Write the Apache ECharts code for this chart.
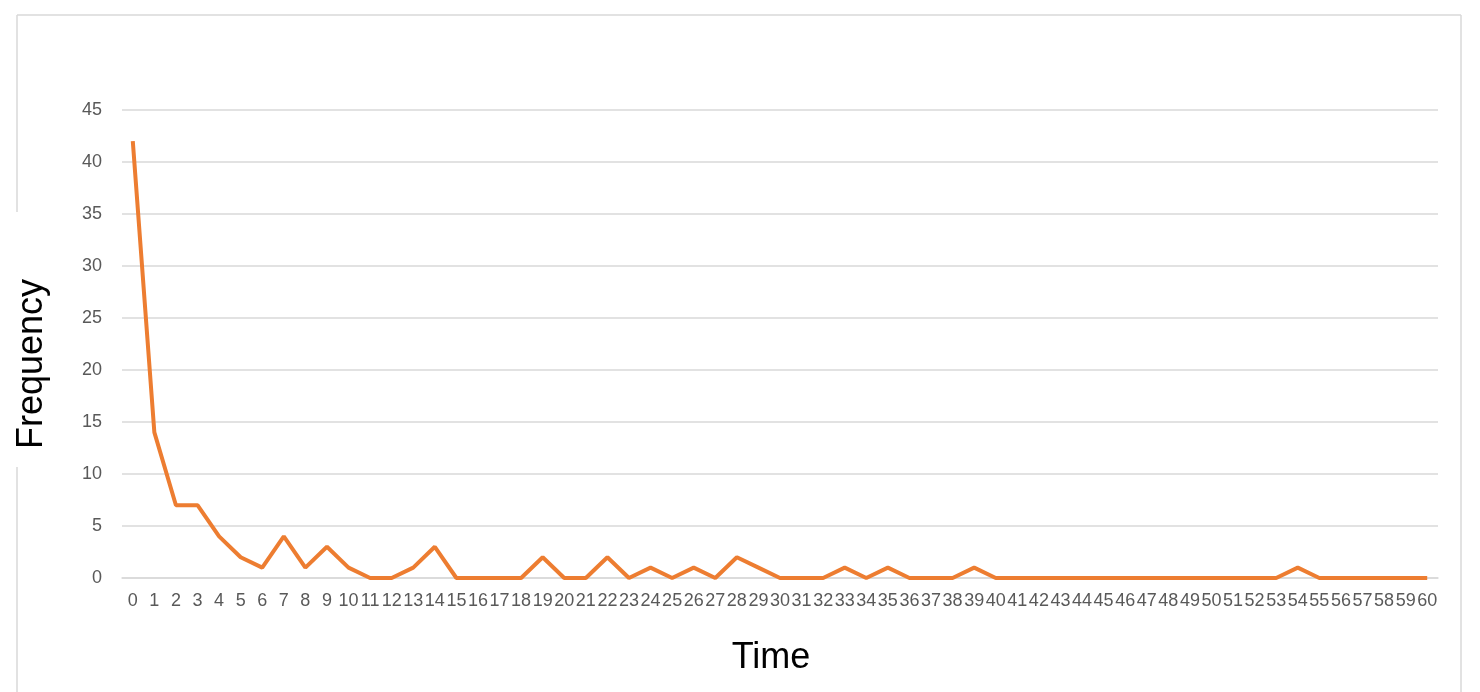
<!DOCTYPE html>
<html>
<head>
<meta charset="utf-8">
<script src="https://cdn.jsdelivr.net/npm/echarts@6/dist/echarts.min.js"></script>
<style>
  html, body { margin: 0; padding: 0; background: #fff; }
  #chart { width: 1480px; height: 692px; }
</style>
</head>
<body>
<div id="chart"></div>
<script>
// time categories 0..60
const times = ['0','1','2','3','4','5','6','7','8','9','10','11','12','13','14','15','16','17','18','19','20',
  '21','22','23','24','25','26','27','28','29','30','31','32','33','34','35','36','37','38','39','40',
  '41','42','43','44','45','46','47','48','49','50','51','52','53','54','55','56','57','58','59','60'];
// frequency
const frequency = [42, 14, 7, 7, 4, 2, 1, 4, 1, 3, 1, 0, 0, 1, 3, 0, 0, 0, 0, 2, 0,
  0, 2, 0, 1, 0, 1, 0, 2, 1, 0, 0, 0, 1, 0, 1, 0, 0, 0, 1, 0,
  0, 0, 0, 0, 0, 0, 0, 0, 0, 0, 0, 0, 0, 1, 0, 0, 0, 0, 0, 0];

const chart = echarts.init(document.getElementById('chart'));
const border = { stroke: '#d9d9d9', lineWidth: 1.5 };

chart.setOption({
  backgroundColor: '#fff',
  animation: false,
  graphic: [
    { type: 'line', shape: { x1: 17, y1: 15, x2: 1461, y2: 15 }, style: border, silent: true },
    { type: 'line', shape: { x1: 1461, y1: 15, x2: 1461, y2: 692 }, style: border, silent: true },
    { type: 'line', shape: { x1: 17, y1: 15, x2: 17, y2: 212 }, style: border, silent: true },
    { type: 'line', shape: { x1: 17, y1: 467, x2: 17, y2: 692 }, style: border, silent: true }
  ],
  grid: { left: 122, right: 42, top: 110, bottom: 114 },
  xAxis: {
    type: 'category',
    data: times,
    boundaryGap: true,
    name: 'Time',
    nameLocation: 'middle',
    nameGap: 62,
    nameTextStyle: { fontFamily: 'Liberation Sans', fontSize: 36, color: '#000', padding: [0, 18, 0, 0] },
    axisLine: { lineStyle: { color: '#d9d9d9', width: 1.5 } },
    axisTick: { show: false },
    axisLabel: { interval: 0, margin: 14, fontFamily: 'Liberation Sans', fontSize: 18, color: '#595959' }
  },
  yAxis: {
    type: 'value',
    min: 0,
    max: 45,
    interval: 5,
    name: 'Frequency',
    nameLocation: 'middle',
    nameRotate: 90,
    nameGap: 72,
    nameTextStyle: { fontFamily: 'Liberation Sans', fontSize: 36, color: '#000', padding: [0, 40, 0, 0] },
    axisLine: { show: false },
    axisTick: { show: false },
    axisLabel: { margin: 20, fontFamily: 'Liberation Sans', fontSize: 18, color: '#595959' },
    splitLine: { lineStyle: { color: '#d9d9d9', width: 1.5 } }
  },
  series: [{
    type: 'line',
    data: frequency,
    showSymbol: false,
    lineStyle: { color: '#ED7D31', width: 4 },
    itemStyle: { color: '#ED7D31' }
  }]
});
</script>
</body>
</html>
